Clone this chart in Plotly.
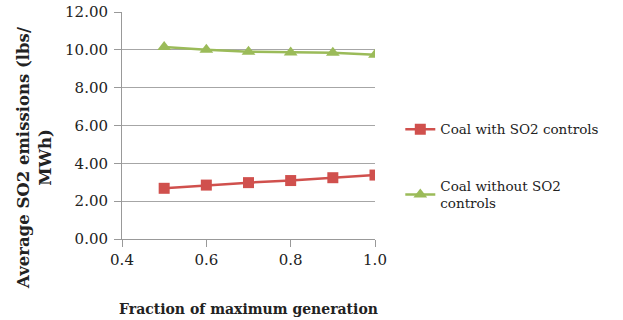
import plotly.graph_objects as go

x_vals = [0.5, 0.6, 0.7, 0.8, 0.9, 1.0]
with_controls = [2.68, 2.85, 2.98, 3.09, 3.24, 3.38]
without_controls = [10.15, 10.0, 9.9, 9.86, 9.85, 9.74]
y_ticks = [0, 2, 4, 6, 8, 10, 12]
x_ticks = [0.4, 0.6, 0.8, 1.0]

font_family = "DejaVu Serif"

fig = go.Figure()
fig.add_trace(go.Scatter(
    x=x_vals, y=with_controls, mode="lines+markers",
    name="Coal with SO2 controls", legendgroup="a",
    line=dict(color="#D0504D", width=2.5),
    marker=dict(symbol="square", size=11, color="#D0504D"),
))
fig.add_trace(go.Scatter(
    x=x_vals, y=without_controls, mode="lines+markers",
    name="Coal without SO2<br>controls", legendgroup="b",
    line=dict(color="#9BBB59", width=2.5),
    marker=dict(symbol="triangle-up", size=12, color="#9BBB59"),
))

fig.update_layout(
    width=623, height=320,
    margin=dict(l=122, r=248, t=12, b=81),
    paper_bgcolor="white", plot_bgcolor="white",
    font=dict(family=font_family, size=14, color="#222"),
    showlegend=True,
    legend=dict(x=1.1, y=0.32, xanchor="left", yanchor="middle",
                font=dict(size=13.5, family=font_family),
                tracegroupgap=36, itemwidth=30),
    xaxis=dict(range=[0.4, 1.0], tickvals=x_ticks, ticktext=["0.4", "0.6", "0.8", "1.0"],
               showgrid=False, showline=True, linecolor="#999", linewidth=1,
               ticks="outside", ticklen=7, tickcolor="#999", zeroline=False,
               tickfont=dict(size=15), automargin=False,
               title=dict(text="<b>Fraction of maximum generation</b>", standoff=36,
                          font=dict(size=14, family=font_family))),
    yaxis=dict(range=[0, 12], tickvals=y_ticks, ticktext=[f"{v:.2f}" for v in y_ticks],
               showgrid=True, gridcolor="#A6A6A6", gridwidth=1,
               showline=True, linecolor="#999", linewidth=1,
               ticks="outside", ticklen=7, tickcolor="#999", zeroline=False,
               ticklabelstandoff=3, automargin=False,
               tickfont=dict(size=15)),
    annotations=[dict(
        text="<b>Average SO2 emissions (lbs/<br>MWh)</b>",
        xref="paper", yref="paper", x=-0.345, y=0.36,
        xanchor="center", yanchor="middle", textangle=-90, showarrow=False,
        font=dict(size=16.5, family=font_family, color="#222"),
    )],
)

fig.write_html("out.html")
